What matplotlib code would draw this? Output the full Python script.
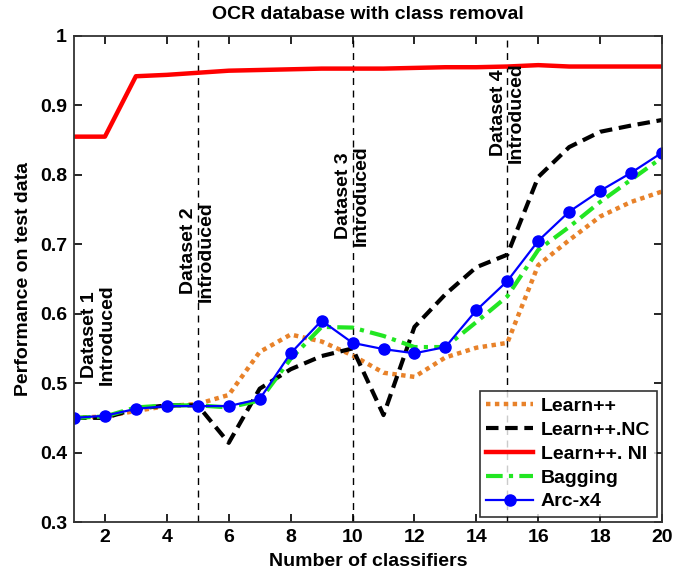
import numpy as np
import matplotlib
matplotlib.use("Agg")
import matplotlib.pyplot as plt

plt.rcParams["font.family"] = ["Liberation Sans", "DejaVu Sans"]
plt.rcParams["font.weight"] = "bold"

n_classifiers = list(range(1, 21))
learnpp = [0.450, 0.452, 0.460, 0.467, 0.470, 0.483, 0.545, 0.570, 0.560, 0.540,
           0.515, 0.509, 0.537, 0.551, 0.558, 0.670, 0.706, 0.740, 0.761, 0.776]
learnpp_nc = [0.450, 0.450, 0.463, 0.468, 0.468, 0.414, 0.492, 0.520, 0.539, 0.550,
              0.454, 0.581, 0.628, 0.667, 0.685, 0.797, 0.840, 0.862, 0.871, 0.879]
learnpp_ni = [0.855, 0.855, 0.942, 0.944, 0.947, 0.950, 0.951, 0.952, 0.953, 0.953,
              0.953, 0.954, 0.955, 0.955, 0.956, 0.958, 0.956, 0.956, 0.956, 0.956]
bagging = [0.450, 0.452, 0.465, 0.468, 0.468, 0.465, 0.475, 0.535, 0.581, 0.580,
           0.568, 0.552, 0.552, 0.588, 0.625, 0.692, 0.725, 0.761, 0.793, 0.825]
arc_x4 = [0.450, 0.453, 0.463, 0.467, 0.467, 0.467, 0.477, 0.543, 0.590, 0.558,
          0.549, 0.543, 0.552, 0.605, 0.647, 0.705, 0.747, 0.777, 0.803, 0.832]

dataset_x = [5, 10, 15]
annotations = [(1.8, 0.57, "Dataset 1\nIntroduced"),
               (5, 0.69, "Dataset 2\nIntroduced"),
               (10, 0.77, "Dataset 3\nIntroduced"),
               (15, 0.89, "Dataset 4\nIntroduced")]

fig = plt.figure(figsize=(6.94, 5.71), dpi=100)
ax = fig.add_axes([0.1066, 0.0858, 0.8474, 0.8512])

for xv in dataset_x:
    ax.axvline(xv, color="k", linestyle=(0, (5, 4)), linewidth=1.0)

ax.plot(n_classifiers, learnpp, color="#E8822A", linestyle=(0, (1, 1)), linewidth=3.2, label="Learn++")
ax.plot(n_classifiers, learnpp_nc, color="k", linestyle=(0, (3, 1.6)), linewidth=3.0, label="Learn++.NC")
ax.plot(n_classifiers, learnpp_ni, color="#FF0000", linewidth=3.2, label="Learn++. NI")
ax.plot(n_classifiers, bagging, color="#22E622", linestyle=(0, (4, 1.5, 1, 1.5)), linewidth=3.0, label="Bagging")
ax.plot(n_classifiers, arc_x4, color="#0000FF", marker="o", markersize=8, linewidth=1.6, label="Arc-x4")

for xv, yv, txt in annotations:
    ax.text(xv, yv, txt, rotation=90, ha="center", va="center", fontsize=14,
            fontweight="bold", linespacing=1.05)

ax.set_xlim(1, 20)
ax.set_ylim(0.3, 1.0)
ax.set_xticks(range(2, 21, 2))
ax.set_yticks([0.3, 0.4, 0.5, 0.6, 0.7, 0.8, 0.9, 1.0])
ax.set_yticklabels(["0.3", "0.4", "0.5", "0.6", "0.7", "0.8", "0.9", "1"])
ax.tick_params(direction="in", top=True, right=True, length=6, width=1.2, labelsize=14, pad=5)
for lab in ax.get_xticklabels() + ax.get_yticklabels():
    lab.set_fontweight("bold")
for sp in ax.spines.values():
    sp.set_linewidth(1.3)
    sp.set_color("#333333")

ax.set_xlabel("Number of classifiers", fontsize=14, fontweight="bold", labelpad=5)
ax.set_ylabel("Performance on test data", fontsize=14, fontweight="bold", labelpad=6)
ax.set_title("OCR database with class removal", fontsize=14, fontweight="bold", pad=12)

leg = ax.legend(loc="lower right", fontsize=14, frameon=True, fancybox=False,
                edgecolor="k", handlelength=2.4, borderaxespad=0.25, labelspacing=0.32,
                handletextpad=0.4, borderpad=0.35)
leg.get_frame().set_linewidth(1.2)

fig.savefig("out.png", dpi=100)
